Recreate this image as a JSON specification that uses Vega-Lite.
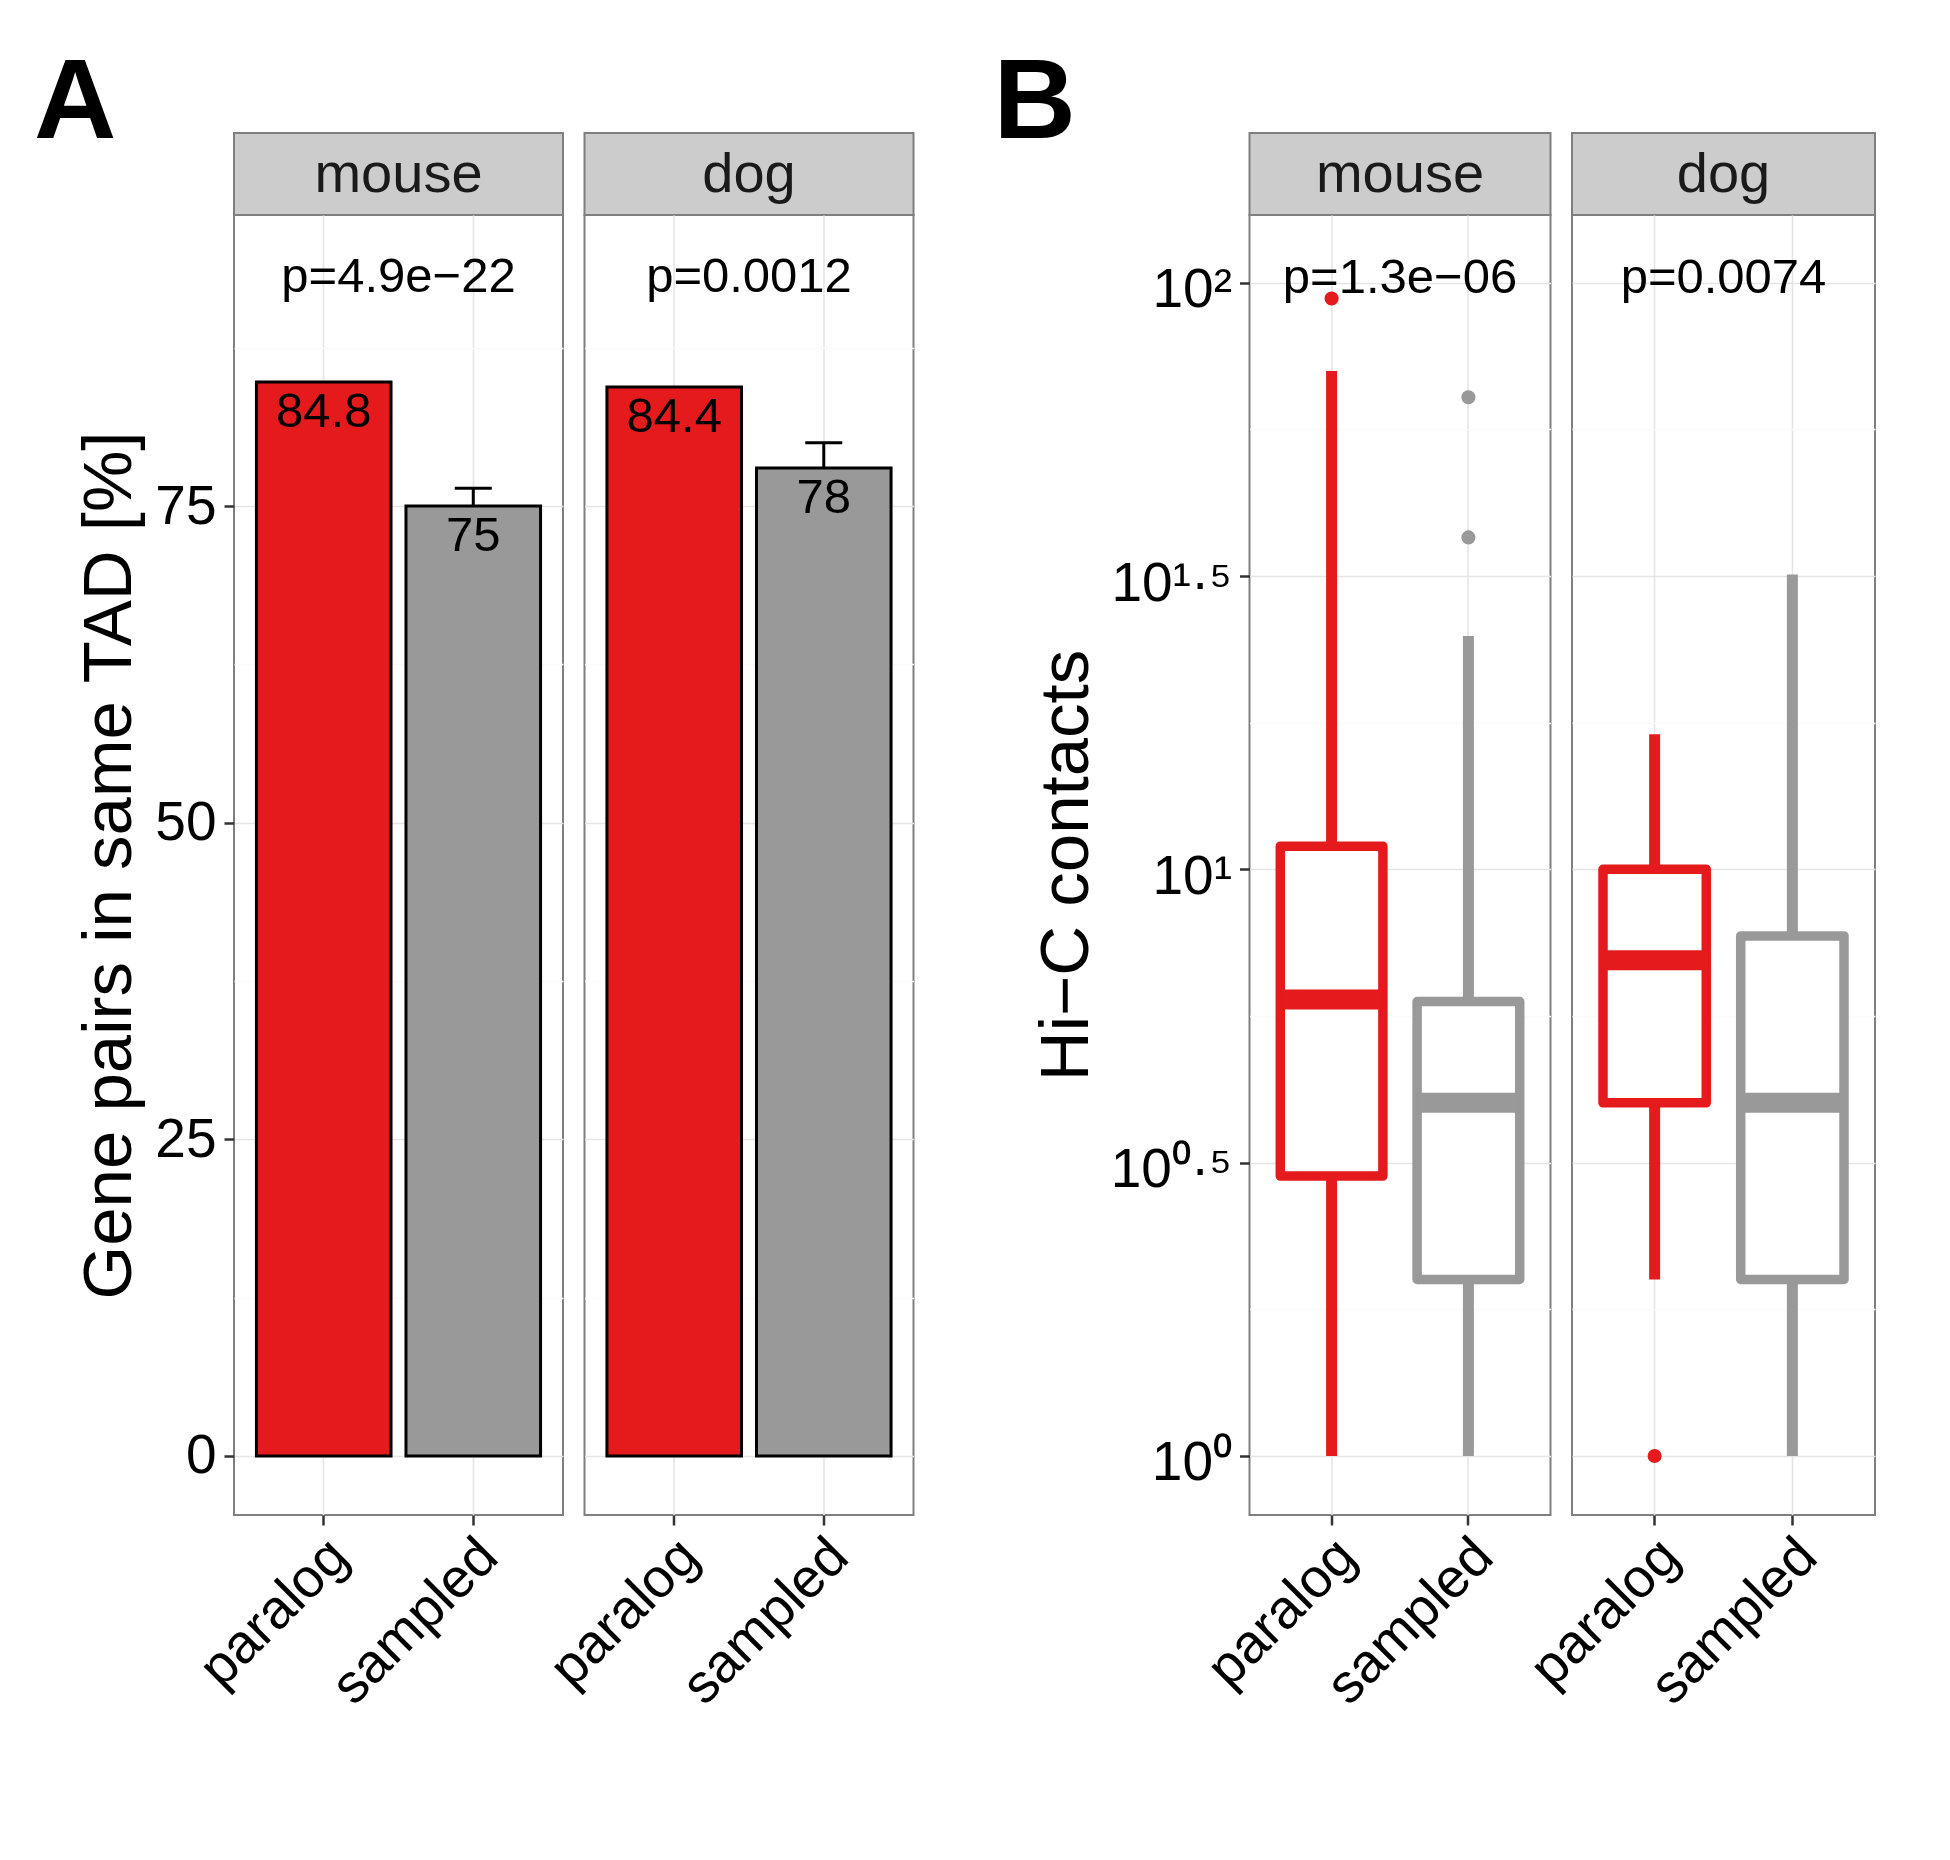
{
  "$schema": "https://vega.github.io/schema/vega-lite/v6.json",
  "background": "white",
  "padding": {"left": 33, "top": 46, "right": 20, "bottom": 20},
  "config": {
    "font": "Liberation Sans",
    "view": {"stroke": "#7F7F7F", "strokeWidth": 2},
    "tick": {"opacity": 1},
    "axis": {
      "domain": false,
      "labelColor": "black",
      "titleColor": "black",
      "labelFont": "Liberation Sans",
      "titleFont": "Liberation Sans",
      "labelFontSize": 55,
      "titleFontSize": 69,
      "titleFontWeight": "normal",
      "tickColor": "#333333",
      "tickWidth": 2.5,
      "tickSize": 10,
      "labelPadding": 8,
      "labelLimit": 1000,
      "gridColor": "#E5E5E5",
      "gridWidth": 1.6,
      "labelOverlap": false,
      "labelFlush": false
    },
    "axisX": {
      "labelAngle": -45,
      "labelAlign": "right",
      "labelBaseline": "top",
      "labelPadding": 4,
      "labelOffset": -3,
      "grid": true,
      "title": null
    }
  },
  "datasets": {
    "strips": [
      {"panel": "A", "species": "mouse"},
      {"panel": "A", "species": "dog"},
      {"panel": "B", "species": "mouse"},
      {"panel": "B", "species": "dog"}
    ],
    "bars": [
      {"species": "mouse", "group": "paralog", "pct": 84.8, "label": "84.8", "upper": null},
      {"species": "mouse", "group": "sampled", "pct": 75.0, "label": "75", "upper": 76.4},
      {"species": "dog", "group": "paralog", "pct": 84.4, "label": "84.4", "upper": null},
      {"species": "dog", "group": "sampled", "pct": 78.0, "label": "78", "upper": 80.0}
    ],
    "pvals": [
      {"panel": "A", "species": "mouse", "p": "p=4.9e−22", "py": 93.3},
      {"panel": "A", "species": "dog", "p": "p=0.0012", "py": 93.3},
      {"panel": "B", "species": "mouse", "p": "p=1.3e−06", "py": 103.1},
      {"panel": "B", "species": "dog", "p": "p=0.0074", "py": 103.1}
    ],
    "boxes": [
      {"species": "mouse", "group": "paralog", "lower": 1, "q1": 3.0, "median": 6.0, "q3": 10.95, "upper": 70.7},
      {"species": "mouse", "group": "sampled", "lower": 1, "q1": 2.0, "median": 4.0, "q3": 5.95, "upper": 25},
      {"species": "dog", "group": "paralog", "lower": 2, "q1": 4.0, "median": 7.0, "q3": 10.0, "upper": 17},
      {"species": "dog", "group": "sampled", "lower": 1, "q1": 2.0, "median": 4.0, "q3": 7.7, "upper": 31.8}
    ],
    "outliers": [
      {"species": "mouse", "group": "paralog", "value": 94.0},
      {"species": "mouse", "group": "sampled", "value": 63.8},
      {"species": "mouse", "group": "sampled", "value": 36.8},
      {"species": "dog", "group": "paralog", "value": 1.0}
    ],
    "empty": []
  },
  "bounds": "flush",
  "align": "each",
  "columns": 5,
  "spacing": {"row": 0, "column": 21.5},
  "concat": [
    {
      "title": {"text": "A", "anchor": "start", "frame": "group", "fontSize": 114, "fontWeight": "bold", "color": "black", "baseline": "alphabetic", "offset": -5, "dx": -200, "dy": 114},
      "width": 329, "height": 82,
      "view": {"fill": "#CCCCCC", "stroke": "#7F7F7F", "strokeWidth": 2},
      "data": {"name": "strips"},
      "transform": [{"filter": "datum.panel === 'A' && datum.species === 'mouse'"}],
      "mark": {"type": "text", "fontSize": 56, "color": "#1A1A1A", "baseline": "middle", "dy": 1},
      "encoding": {"text": {"field": "species"}}
    },
    {
      "width": 329, "height": 82,
      "view": {"fill": "#CCCCCC", "stroke": "#7F7F7F", "strokeWidth": 2},
      "data": {"name": "strips"},
      "transform": [{"filter": "datum.panel === 'A' && datum.species === 'dog'"}],
      "mark": {"type": "text", "fontSize": 56, "color": "#1A1A1A", "baseline": "middle", "dy": 1},
      "encoding": {"text": {"field": "species"}}
    },
    {
      "width": 292.1, "height": 1,
      "view": {"stroke": null, "fill": null},
      "data": {"name": "empty"},
      "mark": {"type": "text"},
      "encoding": {}
    },
    {
      "title": {"text": "B", "anchor": "start", "frame": "group", "fontSize": 114, "fontWeight": "bold", "color": "black", "baseline": "alphabetic", "offset": -5, "dx": -256, "dy": 114},
      "width": 301, "height": 82,
      "view": {"fill": "#CCCCCC", "stroke": "#7F7F7F", "strokeWidth": 2},
      "data": {"name": "strips"},
      "transform": [{"filter": "datum.panel === 'B' && datum.species === 'mouse'"}],
      "mark": {"type": "text", "fontSize": 56, "color": "#1A1A1A", "baseline": "middle", "dy": 1},
      "encoding": {"text": {"field": "species"}}
    },
    {
      "width": 303, "height": 82,
      "view": {"fill": "#CCCCCC", "stroke": "#7F7F7F", "strokeWidth": 2},
      "data": {"name": "strips"},
      "transform": [{"filter": "datum.panel === 'B' && datum.species === 'dog'"}],
      "mark": {"type": "text", "fontSize": 56, "color": "#1A1A1A", "baseline": "middle", "dy": 1},
      "encoding": {"text": {"field": "species"}}
    },
    {
      "width": 329, "height": 1300,
      "layer": [
        {
          "data": {"name": "bars"},
          "transform": [{"filter": "datum.species === 'mouse'"}],
          "mark": {"type": "bar", "stroke": "black", "strokeWidth": 3},
          "encoding": {
            "x": {"field": "group", "type": "nominal", "sort": ["paralog", "sampled"], "scale": {"paddingInner": 0.1, "paddingOuter": 0.15}},
            "y": {"field": "pct", "type": "quantitative", "scale": {"domain": [-4.66, 97.98], "nice": false, "zero": false},
              "axis": {
                "title": "Gene pairs in same TAD [%]", "titlePadding": 10,
                "values": [0, 12.5, 25, 37.5, 50, 62.5, 75, 87.5],
                "labelExpr": "datum.value % 25 === 0 ? datum.label : ''",
                "tickColor": {"condition": {"test": "datum.value % 25 !== 0", "value": "transparent"}, "value": "#333333"},
                "gridColor": {"condition": {"test": "datum.value % 25 !== 0", "value": "#FAFAFA"}, "value": "#E5E5E5"}
              }},
            "color": {"field": "group", "type": "nominal", "scale": {"domain": ["paralog", "sampled"], "range": ["#E41A1C", "#999999"]}, "legend": null}
          }
        },
        {
          "data": {"name": "bars"},
          "transform": [{"filter": "datum.species === 'mouse' && datum.upper != null"}],
          "mark": {"type": "rule", "color": "black", "strokeWidth": 3},
          "encoding": {
            "x": {"field": "group", "type": "nominal", "sort": ["paralog", "sampled"]},
            "y": {"field": "pct", "type": "quantitative"},
            "y2": {"field": "upper"}
          }
        },
        {
          "data": {"name": "bars"},
          "transform": [{"filter": "datum.species === 'mouse' && datum.upper != null"}],
          "mark": {"type": "tick", "color": "black", "thickness": 3, "size": 37, "orient": "horizontal", "opacity": 1},
          "encoding": {
            "x": {"field": "group", "type": "nominal", "sort": ["paralog", "sampled"]},
            "y": {"field": "upper", "type": "quantitative"}
          }
        },
        {
          "data": {"name": "bars"},
          "transform": [{"filter": "datum.species === 'mouse'"}],
          "mark": {"type": "text", "fontSize": 49, "color": "black", "baseline": "top", "dy": 6},
          "encoding": {
            "x": {"field": "group", "type": "nominal", "sort": ["paralog", "sampled"]},
            "y": {"field": "pct", "type": "quantitative"},
            "text": {"field": "label"}
          }
        },
        {
          "data": {"name": "pvals"},
          "transform": [{"filter": "datum.panel === 'A' && datum.species === 'mouse'"}],
          "mark": {"type": "text", "fontSize": 49, "color": "black", "baseline": "middle", "dy": 3},
          "encoding": {
            "y": {"field": "py", "type": "quantitative"},
            "text": {"field": "p"}
          }
        }
      ]
    },
    {
      "width": 329, "height": 1300,
      "layer": [
        {
          "data": {"name": "bars"},
          "transform": [{"filter": "datum.species === 'dog'"}],
          "mark": {"type": "bar", "stroke": "black", "strokeWidth": 3},
          "encoding": {
            "x": {"field": "group", "type": "nominal", "sort": ["paralog", "sampled"], "scale": {"paddingInner": 0.1, "paddingOuter": 0.15}},
            "y": {"field": "pct", "type": "quantitative", "scale": {"domain": [-4.66, 97.98], "nice": false, "zero": false},
              "axis": {
                "title": null, "labels": false, "ticks": false,
                "values": [0, 12.5, 25, 37.5, 50, 62.5, 75, 87.5],
                "gridColor": {"condition": {"test": "datum.value % 25 !== 0", "value": "#FAFAFA"}, "value": "#E5E5E5"}
              }},
            "color": {"field": "group", "type": "nominal", "scale": {"domain": ["paralog", "sampled"], "range": ["#E41A1C", "#999999"]}, "legend": null}
          }
        },
        {
          "data": {"name": "bars"},
          "transform": [{"filter": "datum.species === 'dog' && datum.upper != null"}],
          "mark": {"type": "rule", "color": "black", "strokeWidth": 3},
          "encoding": {
            "x": {"field": "group", "type": "nominal", "sort": ["paralog", "sampled"]},
            "y": {"field": "pct", "type": "quantitative"},
            "y2": {"field": "upper"}
          }
        },
        {
          "data": {"name": "bars"},
          "transform": [{"filter": "datum.species === 'dog' && datum.upper != null"}],
          "mark": {"type": "tick", "color": "black", "thickness": 3, "size": 37, "orient": "horizontal", "opacity": 1},
          "encoding": {
            "x": {"field": "group", "type": "nominal", "sort": ["paralog", "sampled"]},
            "y": {"field": "upper", "type": "quantitative"}
          }
        },
        {
          "data": {"name": "bars"},
          "transform": [{"filter": "datum.species === 'dog'"}],
          "mark": {"type": "text", "fontSize": 49, "color": "black", "baseline": "top", "dy": 6},
          "encoding": {
            "x": {"field": "group", "type": "nominal", "sort": ["paralog", "sampled"]},
            "y": {"field": "pct", "type": "quantitative"},
            "text": {"field": "label"}
          }
        },
        {
          "data": {"name": "pvals"},
          "transform": [{"filter": "datum.panel === 'A' && datum.species === 'dog'"}],
          "mark": {"type": "text", "fontSize": 49, "color": "black", "baseline": "middle", "dy": 3},
          "encoding": {
            "y": {"field": "py", "type": "quantitative"},
            "text": {"field": "p"}
          }
        }
      ]
    },
    {
      "width": 292.1, "height": 1,
      "view": {"stroke": null, "fill": null},
      "data": {"name": "empty"},
      "mark": {"type": "text"},
      "encoding": {}
    },
    {
      "width": 301, "height": 1300,
      "layer": [
        {
          "data": {"name": "boxes"},
          "transform": [{"filter": "datum.species === 'mouse'"}],
          "mark": {"type": "rule", "strokeWidth": 11},
          "encoding": {
            "x": {"field": "group", "type": "nominal", "sort": ["paralog", "sampled"], "scale": {"paddingInner": 0.25, "paddingOuter": 0.225}},
            "y": {"field": "lower", "type": "quantitative", "scale": {"type": "log", "domain": [0.7932, 130.45], "nice": false},
              "axis": {
                "title": "Hi−C contacts", "titlePadding": 9, "labelOffset": 7,
                "values": [1, 1.7782794100389228, 3.1622776601683795, 5.623413251903491, 10, 17.78279410038923, 31.622776601683793, 56.23413251903491, 100],
                "labelExpr": "['10⁰','','10⁰·⁵','','10¹','','10¹·⁵','','10²'][round(log(datum.value)/LN10*4)]",
                "tickColor": {"condition": {"test": "round(log(datum.value)/LN10*4) % 2 !== 0", "value": "transparent"}, "value": "#333333"},
                "gridColor": {"condition": {"test": "round(log(datum.value)/LN10*4) % 2 !== 0", "value": "#FAFAFA"}, "value": "#E5E5E5"}
              }},
            "y2": {"field": "upper"},
            "color": {"field": "group", "type": "nominal", "scale": {"domain": ["paralog", "sampled"], "range": ["#E41A1C", "#999999"]}, "legend": null}
          }
        },
        {
          "data": {"name": "boxes"},
          "transform": [{"filter": "datum.species === 'mouse'"}],
          "mark": {"type": "bar", "fill": "white", "strokeWidth": 9.5, "strokeJoin": "round"},
          "encoding": {
            "x": {"field": "group", "type": "nominal", "sort": ["paralog", "sampled"]},
            "y": {"field": "q1", "type": "quantitative"},
            "y2": {"field": "q3"},
            "stroke": {"field": "group", "type": "nominal", "scale": {"domain": ["paralog", "sampled"], "range": ["#E41A1C", "#999999"]}, "legend": null}
          }
        },
        {
          "data": {"name": "boxes"},
          "transform": [{"filter": "datum.species === 'mouse'"}],
          "mark": {"type": "tick", "thickness": 20, "size": 103, "orient": "horizontal", "opacity": 1},
          "encoding": {
            "x": {"field": "group", "type": "nominal", "sort": ["paralog", "sampled"]},
            "y": {"field": "median", "type": "quantitative"},
            "color": {"field": "group", "type": "nominal", "scale": {"domain": ["paralog", "sampled"], "range": ["#E41A1C", "#999999"]}, "legend": null}
          }
        },
        {
          "data": {"name": "outliers"},
          "transform": [{"filter": "datum.species === 'mouse'"}],
          "mark": {"type": "point", "filled": true, "opacity": 1, "size": 200},
          "encoding": {
            "x": {"field": "group", "type": "nominal", "sort": ["paralog", "sampled"]},
            "y": {"field": "value", "type": "quantitative"},
            "color": {"field": "group", "type": "nominal", "scale": {"domain": ["paralog", "sampled"], "range": ["#E41A1C", "#999999"]}, "legend": null}
          }
        },
        {
          "data": {"name": "pvals"},
          "transform": [{"filter": "datum.panel === 'B' && datum.species === 'mouse'"}],
          "mark": {"type": "text", "fontSize": 49, "color": "black", "baseline": "middle", "dy": 3},
          "encoding": {
            "y": {"field": "py", "type": "quantitative"},
            "text": {"field": "p"}
          }
        }
      ]
    },
    {
      "width": 303, "height": 1300,
      "layer": [
        {
          "data": {"name": "boxes"},
          "transform": [{"filter": "datum.species === 'dog'"}],
          "mark": {"type": "rule", "strokeWidth": 11},
          "encoding": {
            "x": {"field": "group", "type": "nominal", "sort": ["paralog", "sampled"], "scale": {"paddingInner": 0.25, "paddingOuter": 0.225}},
            "y": {"field": "lower", "type": "quantitative", "scale": {"type": "log", "domain": [0.7932, 130.45], "nice": false},
              "axis": {
                "title": null, "labels": false, "ticks": false,
                "values": [1, 1.7782794100389228, 3.1622776601683795, 5.623413251903491, 10, 17.78279410038923, 31.622776601683793, 56.23413251903491, 100],
                "gridColor": {"condition": {"test": "round(log(datum.value)/LN10*4) % 2 !== 0", "value": "#FAFAFA"}, "value": "#E5E5E5"}
              }},
            "y2": {"field": "upper"},
            "color": {"field": "group", "type": "nominal", "scale": {"domain": ["paralog", "sampled"], "range": ["#E41A1C", "#999999"]}, "legend": null}
          }
        },
        {
          "data": {"name": "boxes"},
          "transform": [{"filter": "datum.species === 'dog'"}],
          "mark": {"type": "bar", "fill": "white", "strokeWidth": 9.5, "strokeJoin": "round"},
          "encoding": {
            "x": {"field": "group", "type": "nominal", "sort": ["paralog", "sampled"]},
            "y": {"field": "q1", "type": "quantitative"},
            "y2": {"field": "q3"},
            "stroke": {"field": "group", "type": "nominal", "scale": {"domain": ["paralog", "sampled"], "range": ["#E41A1C", "#999999"]}, "legend": null}
          }
        },
        {
          "data": {"name": "boxes"},
          "transform": [{"filter": "datum.species === 'dog'"}],
          "mark": {"type": "tick", "thickness": 20, "size": 103, "orient": "horizontal", "opacity": 1},
          "encoding": {
            "x": {"field": "group", "type": "nominal", "sort": ["paralog", "sampled"]},
            "y": {"field": "median", "type": "quantitative"},
            "color": {"field": "group", "type": "nominal", "scale": {"domain": ["paralog", "sampled"], "range": ["#E41A1C", "#999999"]}, "legend": null}
          }
        },
        {
          "data": {"name": "outliers"},
          "transform": [{"filter": "datum.species === 'dog'"}],
          "mark": {"type": "point", "filled": true, "opacity": 1, "size": 200},
          "encoding": {
            "x": {"field": "group", "type": "nominal", "sort": ["paralog", "sampled"]},
            "y": {"field": "value", "type": "quantitative"},
            "color": {"field": "group", "type": "nominal", "scale": {"domain": ["paralog", "sampled"], "range": ["#E41A1C", "#999999"]}, "legend": null}
          }
        },
        {
          "data": {"name": "pvals"},
          "transform": [{"filter": "datum.panel === 'B' && datum.species === 'dog'"}],
          "mark": {"type": "text", "fontSize": 49, "color": "black", "baseline": "middle", "dy": 3},
          "encoding": {
            "y": {"field": "py", "type": "quantitative"},
            "text": {"field": "p"}
          }
        }
      ]
    }
  ]
}
